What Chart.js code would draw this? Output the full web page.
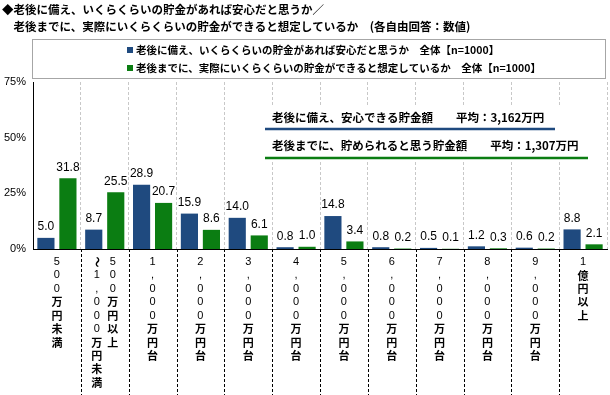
<!DOCTYPE html>
<html><head><meta charset="utf-8">
<script src="https://cdn.jsdelivr.net/npm/chart.js@4/dist/chart.umd.min.js"></script>
<style>html,body{margin:0;padding:0;background:#fff}#wrap{width:610px;height:395px}</style>
</head><body><div id="wrap"><canvas id="c" width="610" height="395"></canvas></div>
<script>
const categories = ['500万円未満','500万円以上～1,000万円未満','1,000万円台','2,000万円台','3,000万円台','4,000万円台','5,000万円台','6,000万円台','7,000万円台','8,000万円台','9,000万円台','1億円以上'];
// vertical label columns, right-to-left reading order
const labelColumns = [['500万円未満'],['500万円以上','～1,000万円未満'],['1,000万円台'],['2,000万円台'],['3,000万円台'],['4,000万円台'],['5,000万円台'],['6,000万円台'],['7,000万円台'],['8,000万円台'],['9,000万円台'],['1億円以上']];
const safeAmount = [5.0, 8.7, 28.9, 15.9, 14.0, 0.8, 14.8, 0.8, 0.5, 1.2, 0.6, 8.8];
const expectedAmount = [31.8, 25.5, 20.7, 8.6, 6.1, 1.0, 3.4, 0.2, 0.1, 0.3, 0.2, 2.1];
const yTicks = [0, 25, 50, 75];
const seriesNames = ['老後に備え、いくらくらいの貯金があれば安心だと思うか　全体【n=1000】','老後までに、実際にいくらくらいの貯金ができると想定しているか　全体【n=1000】'];
const titleLines = ['◆老後に備え、いくらくらいの貯金があれば安心だと思うか／','　老後までに、実際にいくらくらいの貯金ができると想定しているか　(各自由回答：数値)'];
const notes = ['老後に備え、安心できる貯金額　　平均：3,162万円','老後までに、貯められると思う貯金額　　平均：1,307万円'];

const BLUE = '#1f4a7f', GREEN = '#0b7d12';
const JP = '"Noto Sans CJK JP", sans-serif';

const decor = {
  id: 'decor',
  beforeDraw(chart) {
    const ctx = chart.ctx;
    ctx.save(); ctx.fillStyle = '#fff'; ctx.fillRect(0,0,chart.width,chart.height); ctx.restore();
  },
  afterDatasetsDraw(chart) {
    const ctx = chart.ctx;
    ctx.save();
    ctx.font = '12px "Liberation Sans", Arial, sans-serif';
    ctx.fillStyle = '#000'; ctx.textAlign = 'center'; ctx.textBaseline = 'bottom';
    chart.data.datasets.forEach((ds, di) => {
      chart.getDatasetMeta(di).data.forEach((bar, i) => {
        ctx.fillText(ds.data[i].toFixed(1), bar.x, bar.y - 5);
      });
    });
    ctx.restore();
  },
  afterDraw(chart) {
    const ctx = chart.ctx;
    const xs = chart.scales.x, area = chart.chartArea;
    ctx.save();
    // title
    ctx.fillStyle = '#000'; ctx.textBaseline = 'middle'; ctx.textAlign = 'left';
    ctx.font = 'bold 11.5px ' + JP;
    ctx.fillText(titleLines[0], 2, 10);
    ctx.fillText(titleLines[1], 2, 27);
    // legend
    ctx.strokeStyle = '#a6a6a6'; ctx.lineWidth = 1;
    ctx.strokeRect(32.5, 39.5, 573, 39);
    ctx.font = 'bold 10.5px ' + JP;
    chart.data.datasets.forEach((ds, di) => {
      const y = 50 + di * 18;
      ctx.fillStyle = ds.backgroundColor;
      ctx.fillRect(127, y - 3, 6, 6);
      ctx.fillStyle = '#000';
      ctx.fillText(ds.label, 136, y);
    });
    // annotation box
    ctx.fillStyle = '#fff';
    ctx.fillRect(262, 106, 330, 56);
    ctx.fillStyle = '#000';
    ctx.font = 'bold 11.5px ' + JP;
    ctx.fillText(notes[0], 272, 118);
    ctx.fillText(notes[1], 272, 146);
    ctx.lineWidth = 2.5;
    ctx.strokeStyle = BLUE;
    ctx.beginPath(); ctx.moveTo(265, 129); ctx.lineTo(555, 129); ctx.stroke();
    ctx.strokeStyle = GREEN;
    ctx.beginPath(); ctx.moveTo(265, 158); ctx.lineTo(588, 158); ctx.stroke();
    // dashed separators below axis
    ctx.strokeStyle = '#000'; ctx.lineWidth = 1; ctx.setLineDash([3,2]);
    for (let i = 1; i < categories.length; i++) {
      const x = Math.round((xs.getPixelForValue(i-1) + xs.getPixelForValue(i)) / 2) + 0.5;
      ctx.beginPath(); ctx.moveTo(x, area.bottom); ctx.lineTo(x, 395); ctx.stroke();
    }
    ctx.setLineDash([]);
    // vertical category labels
    ctx.textAlign = 'center'; ctx.textBaseline = 'middle';
    labelColumns.forEach((cols, i) => {
      const cx = xs.getPixelForValue(i);
      const n = cols.length;
      cols.forEach((col, k) => {
        const x = cx + (n - 1) / 2 * 16 - k * 16;
        Array.from(col).forEach((ch, j) => {
          const y = 262 + j * 13.4;
          if (/[0-9,.]/.test(ch)) {
            ctx.font = '11px "Liberation Sans", Arial, sans-serif';
            ctx.fillText(ch, x, y);
          } else if (ch === '～') {
            ctx.font = 'bold 11px ' + JP;
            ctx.save(); ctx.translate(x, y); ctx.rotate(Math.PI / 2); ctx.fillText(ch, 0, 0); ctx.restore();
          } else {
            ctx.font = 'bold 11px ' + JP;
            ctx.fillText(ch, x, y);
          }
        });
      });
    });
    ctx.restore();
  }
};

new Chart(document.getElementById('c'), {
  type: 'bar',
  data: {
    labels: categories,
    datasets: [
      { label: seriesNames[0], data: safeAmount, backgroundColor: BLUE, categoryPercentage: 0.92, barPercentage: 0.78 },
      { label: seriesNames[1], data: expectedAmount, backgroundColor: GREEN, categoryPercentage: 0.92, barPercentage: 0.78 }
    ]
  },
  options: {
    responsive: false, animation: false, devicePixelRatio: 1,
    layout: { padding: { top: 82, right: 3, left: 0, bottom: 0 } },
    plugins: { legend: { display: false }, title: { display: false }, tooltip: { enabled: false } },
    scales: {
      x: {
        ticks: { display: false },
        grid: { display: true, drawTicks: false, color: c => (c.index === 0 || c.index === categories.length) ? 'rgba(0,0,0,0)' : '#c8c8c8', lineWidth: 1 },
        border: { display: true, color: '#000', width: 1, dash: [3,2] },
        afterFit: s => { s.height = 146; }
      },
      y: {
        min: 0, max: 75,
        afterBuildTicks: s => { s.ticks = yTicks.map(v => ({ value: v })); },
        ticks: { callback: v => v + '%', color: '#000', padding: 7, font: { size: 11, family: '"Liberation Sans", Arial, sans-serif' } },
        grid: { display: false, drawTicks: false },
        border: { display: true, color: '#000', width: 1 },
        afterFit: s => { s.width = 33; }
      }
    }
  },
  plugins: [decor]
});
</script>
</body></html>
